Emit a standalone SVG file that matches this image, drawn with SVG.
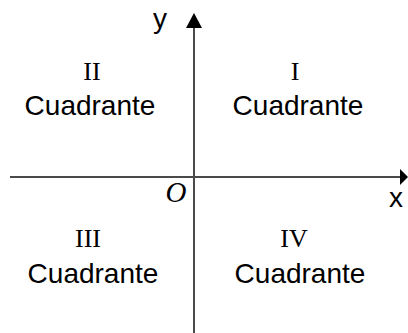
<svg xmlns="http://www.w3.org/2000/svg" width="408" height="333" viewBox="0 0 408 333">
<style>
.ax{stroke:#4a4a4a;stroke-width:2;fill:none}
.lab{font-family:"Liberation Sans",Arial,sans-serif;font-size:28px;fill:#000}
.rom{font-family:"Liberation Serif","Times New Roman",serif;font-size:26px;fill:#000}
.o{font-family:"Liberation Serif","Times New Roman",serif;font-size:29px;font-style:italic;fill:#000}
</style>
<rect width="408" height="333" fill="#fff"/>
<g id="connectors">
<line class="ax" x1="194" y1="333" x2="194" y2="28"/>
<path d="M186,28 L194,13 L202,28 Z" fill="#000"/>
<line class="ax" x1="10" y1="177" x2="400" y2="177"/>
<path d="M400,169 L408,177 L400,185 Z" fill="#000"/>
</g>
<g id="label-y"><text class="lab" x="160" y="28" text-anchor="middle">y</text></g>
<g id="label-x"><text class="lab" x="396" y="207" text-anchor="middle">x</text></g>
<g id="origin"><text class="o" x="176" y="202" text-anchor="middle">O</text></g>
<g id="q2"><text class="rom" x="92" y="80" text-anchor="middle">II</text><text class="lab" x="90" y="115" text-anchor="middle">Cuadrante</text></g>
<g id="q1"><text class="rom" x="295" y="80" text-anchor="middle">I</text><text class="lab" x="298" y="115" text-anchor="middle">Cuadrante</text></g>
<g id="q3"><text class="rom" x="88" y="247" text-anchor="middle">III</text><text class="lab" x="93" y="283" text-anchor="middle">Cuadrante</text></g>
<g id="q4"><text class="rom" x="294" y="247" text-anchor="middle">IV</text><text class="lab" x="300" y="283" text-anchor="middle">Cuadrante</text></g>
</svg>
